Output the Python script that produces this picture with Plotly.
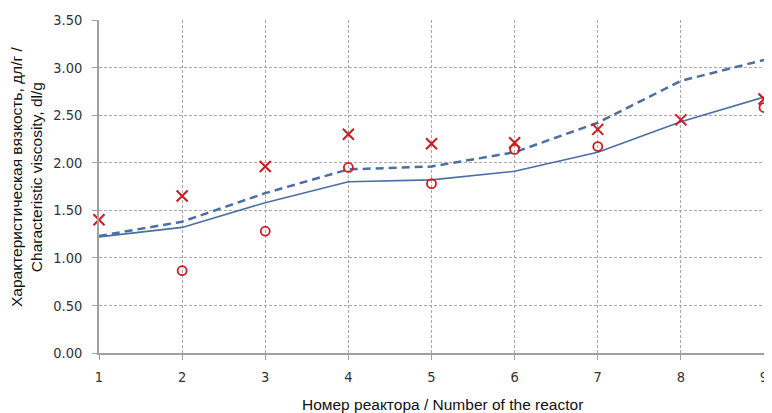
import plotly.graph_objects as go

reactors = [1, 2, 3, 4, 5, 6, 7, 8, 9]
model_solid = [1.22, 1.32, 1.58, 1.80, 1.82, 1.91, 2.11, 2.43, 2.69]
model_dashed = [1.23, 1.38, 1.68, 1.93, 1.96, 2.11, 2.42, 2.86, 3.08]
x_marker_reactors = [1, 2, 3, 4, 5, 6, 7, 8, 9]
x_marker_values = [1.40, 1.65, 1.96, 2.30, 2.20, 2.21, 2.35, 2.45, 2.67]
o_marker_reactors = [2, 3, 4, 5, 6, 7, 9]
o_marker_values = [0.865, 1.28, 1.95, 1.78, 2.14, 2.17, 2.58]
y_ticks = [0, 0.5, 1.0, 1.5, 2.0, 2.5, 3.0, 3.5]
x_title = "Номер реактора / Number of the reactor"
y_title = "Характеристическая вязкость, дл/г /<br>Characteristic viscosity, dl/g"

line_color = "#4a6fa5"
red = "#d0191f"
tick_font = dict(family="DejaVu Sans Condensed, DejaVu Sans", size=14.5, color="#333333")

fig = go.Figure()
fig.add_trace(go.Scatter(x=reactors, y=model_solid, mode="lines",
                         line=dict(color=line_color, width=1.6), cliponaxis=False))
fig.add_trace(go.Scatter(x=reactors, y=model_dashed, mode="lines",
                         line=dict(color=line_color, width=2.5, dash="8px,5px"), cliponaxis=False))
fig.add_trace(go.Scatter(x=x_marker_reactors, y=x_marker_values, mode="markers",
                         marker=dict(symbol="x-thin-open", size=11, color=red,
                                     line=dict(color=red, width=2)), cliponaxis=False))
fig.add_trace(go.Scatter(x=o_marker_reactors, y=o_marker_values, mode="markers",
                         marker=dict(symbol="circle-open", size=9, color=red,
                                     line=dict(color=red, width=1.8)), cliponaxis=False))

# page body has an 8px margin, so the figure is sized/offset to compensate
fig.update_layout(
    width=764, height=405,
    margin=dict(l=91, r=4, t=11, b=60),
    paper_bgcolor="white", plot_bgcolor="white",
    showlegend=False,
    font=dict(family="DejaVu Sans", size=13, color="#333333"),
)
fig.update_xaxes(
    range=[1, 9], tickvals=reactors, ticktext=[str(r) for r in reactors],
    showgrid=True, gridcolor="#a8a8a8", gridwidth=1, griddash="3px,2px",
    showline=True, linecolor="#a0a0a0", linewidth=1.5,
    ticks="outside", ticklen=5, tickcolor="#a0a0a0", tickwidth=1.2,
    zeroline=False, ticklabeloverflow="allow", ticklabelstandoff=5,
    tickfont=tick_font,
)
fig.update_yaxes(
    range=[0, 3.5], tickvals=y_ticks, tickformat=".2f",
    showgrid=True, gridcolor="#a8a8a8", gridwidth=1, griddash="3px,2px",
    showline=True, linecolor="#a0a0a0", linewidth=1.5,
    ticks="outside", ticklen=5, tickcolor="#a0a0a0", tickwidth=1.2,
    zeroline=False, ticklabelstandoff=7,
    tickfont=tick_font,
)
fig.add_annotation(text=x_title, xref="paper", yref="paper", x=0.516, y=0,
                   xanchor="center", yanchor="middle", yshift=-51, showarrow=False,
                   font=dict(family="Liberation Sans", size=15.5, color="#111111"))
fig.add_annotation(text=y_title, xref="paper", yref="paper", x=0, y=0.5,
                   xanchor="center", yanchor="middle", xshift=-72.5, yshift=9,
                   textangle=-90, showarrow=False, align="center",
                   font=dict(family="Liberation Sans", size=15.5, color="#111111"))

fig.write_html("out.html")
